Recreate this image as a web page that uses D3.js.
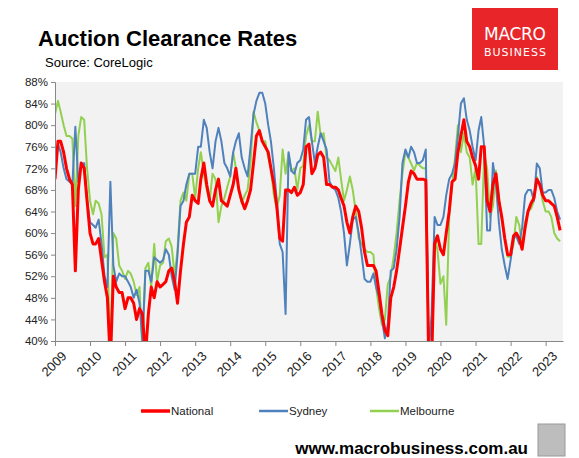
<!DOCTYPE html>
<html>
<head>
<meta charset="utf-8">
<script src="https://cdn.jsdelivr.net/npm/d3@7"></script>
<style>
  body { margin: 0; background: #fff; font-family: "Liberation Sans", Arial, sans-serif; }
</style>
</head>
<body>
<svg id="chart"></svg>
<script>
// monthly clearance rates, Jan 2009 - Jun 2023 (one row per year)
const national = [
  70, 77, 77, 75, 72, 70, 69, 53, 68, 73, 72, 66,
  60, 58, 58, 59, 55, 51, 48, 36, 52, 50, 49, 49,
  46, 48, 48, 47, 44, 46, 45, 37, 45, 50, 48, 51,
  50, 50.5, 51, 53, 53.5, 51, 47, 53, 58, 62, 63, 67,
  66, 65.5, 70, 73, 69, 66, 65, 68, 70, 66, 65.5, 65,
  67, 69, 72, 68, 66, 64.5, 66, 68, 73, 78, 79, 77,
  76, 75, 72, 69, 65, 59, 58.5, 68, 68, 67.5, 68.5, 67,
  67.5, 69, 76, 76.5, 71, 72, 74.5, 75, 74, 69, 69, 68.5,
  68.5, 68, 66.5, 65, 62, 60, 63, 65, 64, 61, 56.5, 54,
  54, 54, 53, 49, 45, 42, 41, 48, 50, 53, 57, 61,
  65, 69.5, 71.5, 71, 70, 70, 70, 69.8, 36, 36, 58, 59.5,
  57, 56, 60, 64, 69.5, 70, 75, 78, 81, 77, 76, 74,
  72.5, 70, 76, 76, 66, 64, 69, 71, 66, 63, 59, 56,
  56, 59.5, 60, 59, 57, 61, 64, 65.5, 66.5, 70, 69, 67,
  66, 66, 65.5, 65, 63, 60.5
];
const sydney = [
  72, 76.5, 75, 72, 70, 69.5, 69, 79.7, 69.5, 72.5, 73, 66,
  62, 61.5, 61, 62.5, 58, 52, 50, 69.5, 54, 51, 52.5, 52,
  52, 51, 50, 48, 49.5, 47, 40, 53, 53, 51, 55.5, 55,
  54.5, 55, 57, 56, 52, 49.5, 56, 65, 66, 69, 71, 71,
  71, 76, 76, 81, 79.5, 75, 72, 77, 79.5, 77, 73, 72,
  70.5, 75, 77, 78.5, 74, 72, 70.5, 76, 82, 84.5, 86, 86,
  84, 80, 77, 72, 66, 58, 56.5, 45, 75, 71.5, 71, 73,
  73.5, 75.5, 81, 81.5, 77, 73, 76, 78.5, 77, 75.5, 69.5, 68.5,
  68, 66.5, 64, 60, 54, 58, 62.5, 63, 60, 56, 51.5, 51,
  51, 52.5, 50, 48, 44, 40.5, 43, 53, 53.5, 57, 63, 73,
  75.5, 74, 76, 75, 73, 73, 73.5, 75.5, 38, 45, 63, 61.5,
  61.5, 63, 67, 70, 71, 73, 78, 84, 85, 81, 79, 76,
  73.5, 79, 81.5, 76, 60.5, 60.5, 73, 69, 62, 57, 54, 51.5,
  55, 59, 59.5, 58, 61, 67, 68, 68, 66, 72.9, 72, 67.5,
  67.5, 68, 68, 66.5, 64, 62.5
];
const melbourne = [
  82, 84.5, 82.5, 80, 78, 78, 77.5, 65, 78, 81.5, 81, 72,
  66, 63.5, 66, 65.5, 63.5, 55.5, 56, 37, 60, 59, 54, 53,
  51.5, 53, 52.5, 51, 48.5, 50, 38, 53.5, 54.5, 50, 58, 51,
  54, 54.5, 58.5, 59, 57.5, 52, 57, 66, 67.5, 66, 71, 71,
  66.5, 72, 75, 71, 68, 66, 71, 70, 62, 65, 66.5, 68.5,
  70.5, 75, 72, 68, 65.5, 67, 68, 73, 82.5, 80.5, 79, 77,
  77, 74, 72, 67, 64.5, 67, 75.5, 71, 74.7, 71.5, 72, 68,
  72, 72.5, 78, 80, 77, 77, 82.5, 78, 78.5, 74, 73.5, 72.5,
  71.5, 74, 70, 66, 68, 70.5, 68, 64, 59, 58, 57, 56.5,
  56.5, 56, 50, 46, 43, 44, 50.5, 52, 55.6, 60, 66, 71,
  75, 74, 72.9, 71.6, 73, 72.5, 72, 72, 36, 36, 59.3, 56.8,
  50.6, 52, 43, 63, 69, 74, 80, 75, 78.5, 75, 74, 69,
  72, 58, 58, 74.7, 72, 63, 65, 71.6, 66.7, 62.4, 59.3, 55.6,
  55.6, 58, 63, 61.5, 57.5, 62, 64, 64.5, 66, 70.4, 69, 66,
  64, 64, 63, 60, 59, 58.5
];
const seriesNames = ["National", "Sydney", "Melbourne"];
const seriesColors = ["#ff0000", "#4f81bd", "#92d050"];
const seriesWidths = [3, 2, 2];
const yTicks = [40, 44, 48, 52, 56, 60, 64, 68, 72, 76, 80, 84, 88];
const years = d3.range(2009, 2024);

const W = 579, H = 458;
const margin = { top: 82, right: 16, bottom: 117, left: 55 };

const svg = d3.select("#chart").attr("width", W).attr("height", H);

const months = national.map((d, i) => new Date(2009, i, 1));
const x = d3.scaleTime()
  .domain([new Date(2009, 0, 1), new Date(2023, 6, 1)])
  .range([margin.left, W - margin.right]);
const y = d3.scaleLinear().domain([40, 88]).range([H - margin.bottom, margin.top]);

// plot background
svg.append("rect")
  .attr("x", margin.left).attr("y", margin.top)
  .attr("width", W - margin.right - margin.left)
  .attr("height", H - margin.bottom - margin.top)
  .attr("fill", "#f2f2f2");

svg.append("clipPath").attr("id", "clip").append("rect")
  .attr("x", margin.left).attr("y", margin.top)
  .attr("width", W - margin.right - margin.left)
  .attr("height", H - margin.bottom - margin.top);

// lines, drawn back to front
const line = d3.line().x((d, i) => x(months[i])).y(d => y(d));
const data = [national, sydney, melbourne];
[2, 1, 0].forEach(k => {
  svg.append("path")
    .datum(data[k])
    .attr("clip-path", "url(#clip)")
    .attr("fill", "none")
    .attr("stroke", seriesColors[k])
    .attr("stroke-width", seriesWidths[k])
    .attr("stroke-linejoin", "round")
    .attr("d", line);
});

// y axis
const yAxis = svg.append("g")
  .attr("transform", `translate(${margin.left},0)`)
  .call(d3.axisLeft(y).tickValues(yTicks).tickFormat(d => d + "%").tickSize(4));
yAxis.select(".domain").attr("stroke", "#888");
yAxis.selectAll(".tick line").attr("stroke", "#888");
yAxis.selectAll("text").attr("font-size", 11.5).attr("fill", "#222")
  .attr("font-family", "'Liberation Sans', Arial, sans-serif");

// x axis
const xAxis = svg.append("g")
  .attr("transform", `translate(0,${H - margin.bottom})`)
  .call(d3.axisBottom(x).tickValues(years.map(yr => new Date(yr, 0, 1)))
    .tickFormat(d3.timeFormat("%Y")).tickSize(5).tickSizeOuter(0));
xAxis.select(".domain").attr("stroke", "#888");
xAxis.selectAll(".tick line").attr("stroke", "#888");
xAxis.selectAll("text")
  .attr("font-size", 13).attr("fill", "#222")
  .attr("font-family", "'Liberation Sans', Arial, sans-serif")
  .attr("text-anchor", "end")
  .attr("dy", "0.35em")
  .attr("transform", "translate(3,7) rotate(-45)");

// titles
svg.append("text").attr("x", 38).attr("y", 46)
  .attr("font-size", 22).attr("font-weight", "bold").attr("fill", "#000")
  .text("Auction Clearance Rates");
svg.append("text").attr("x", 45).attr("y", 67)
  .attr("font-size", 13).attr("fill", "#000")
  .text("Source: CoreLogic");

// logo
const logo = svg.append("g");
logo.append("rect").attr("x", 472).attr("y", 8).attr("width", 86).attr("height", 62).attr("fill", "#e8262a");
logo.append("text").attr("x", 515).attr("y", 40).attr("text-anchor", "middle")
  .attr("font-size", 17).attr("fill", "#fff").attr("font-family", "'DejaVu Sans', sans-serif")
  .attr("textLength", 62).text("MACRO");
logo.append("text").attr("x", 515).attr("y", 56).attr("text-anchor", "middle")
  .attr("font-size", 11).attr("fill", "#fff").attr("font-family", "'DejaVu Sans', sans-serif")
  .attr("textLength", 62).text("BUSINESS");

// legend
const legendX = [141, 259, 370];
seriesNames.forEach((name, k) => {
  const g = svg.append("g").attr("transform", `translate(${legendX[k]},411)`);
  g.append("line").attr("x1", 0).attr("x2", 29).attr("y1", 0).attr("y2", 0)
    .attr("stroke", seriesColors[k]).attr("stroke-width", seriesWidths[k] + 0.5);
  g.append("text").attr("x", 30).attr("y", 4).attr("font-size", 11.5).attr("fill", "#222")
    .text(name);
});

// footer
svg.append("text").attr("x", 528).attr("y", 454).attr("text-anchor", "end")
  .attr("font-size", 17).attr("font-weight", "bold").attr("fill", "#000")
  .text("www.macrobusiness.com.au");
svg.append("rect").attr("x", 538).attr("y", 424).attr("width", 27).attr("height", 32)
  .attr("fill", "#bdbdbd").attr("stroke", "#999");
</script>
</body>
</html>
